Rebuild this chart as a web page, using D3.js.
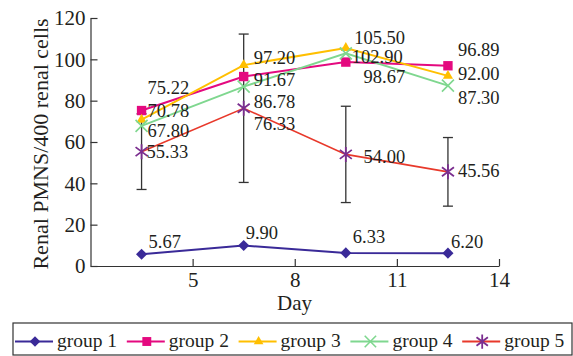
<!DOCTYPE html>
<html>
<head>
<meta charset="utf-8">
<script src="https://cdn.jsdelivr.net/npm/d3@7"></script>
<style>
  body { margin: 0; background: #fff; }
  text { font-family: "Liberation Serif", "Times New Roman", serif; fill: #231f20; }
</style>
</head>
<body>
<div id="my_dataviz"></div>
<script>

// data
var days = [3.5, 6.5, 9.5, 12.5];
var group1 = [5.67, 9.90, 6.33, 6.20];
var group2 = [75.22, 91.67, 98.67, 96.89];
var group3 = [70.78, 97.20, 105.50, 92.00];
var group4 = [67.80, 86.78, 102.90, 87.30];
var group5 = [55.33, 76.33, 54.00, 45.56];
var group5Err = [18.3, 35.9, 23.3, 16.6];
var groupNames = ["group 1", "group 2", "group 3", "group 4", "group 5"];
var xTicks = [5, 8, 11, 14];
var yTicks = [0, 20, 40, 60, 80, 100, 120];

// where each value label sits relative to its point (px)
var labelNudge = [
  [[7, -6], [2, -7], [7, -10], [3, -5.5]],
  [[6, -17], [10, 9.3], [17.7, 21], [10, -9.3]],
  [[6, -3], [10, -1.3], [8.4, -4], [10, 4]],
  [[6, 10.7], [10, 21.5], [6, 9.8], [10, 18]],
  [[5, 6.6], [10, 21.6], [17.7, 9], [10, 4.8]]
];

var styles = [
  {line: "#3a2a98", mark: "#3a2a98", shape: "diamond", lw: 2},
  {line: "#e4097f", mark: "#e4097f", shape: "square", lw: 2},
  {line: "#ffbf00", mark: "#ffbf00", shape: "triangle", lw: 2},
  {line: "#7fd78f", mark: "#7fd78f", shape: "cross", lw: 2},
  {line: "#e8392b", mark: "#7b2e8f", shape: "star", lw: 1.6}
];

var series = [group1, group2, group3, group4, group5];

var W = 573, H = 356;

var svg = d3.select("#my_dataviz")
    .append("svg")
        .attr("width", W)
        .attr("height", H);

var x = d3.scaleLinear()
            .domain([2, 14])
            .range([90.5, 499]);

var y = d3.scaleLinear()
            .domain([0, 120])
            .range([266, 18]);

// X axis
var xAxis = svg.append("g")
        .attr("transform", "translate(0,266)")
        .call(d3.axisBottom(x).tickValues(xTicks).tickSizeInner(-7).tickSizeOuter(0).tickPadding(6));

// Y axis
var yAxis = svg.append("g")
        .attr("transform", "translate(90.5,0)")
        .call(d3.axisLeft(y).tickValues(yTicks).tickSizeInner(-7).tickSizeOuter(0).tickPadding(5));

[xAxis, yAxis].forEach(function(a) {
    a.selectAll("path, line").attr("stroke", "#333").attr("stroke-width", 1.2);
    a.selectAll("text").attr("font-size", 21).style("font-family", '"Liberation Serif", serif').attr("fill", "#231f20");
});

svg.append("text")
    .attr("x", 294.5)
    .attr("y", 309.5)
    .attr("text-anchor", "middle")
    .attr("font-size", 21)
    .text("Day");

svg.append("text")
    .attr("transform", "translate(48,144) rotate(-90)")
    .attr("text-anchor", "middle")
    .attr("font-size", 22)
    .text("Renal PMNS/400 renal cells");

// error bars for group 5
var errG = svg.append("g");
group5.forEach(function(v, i) {
    var cx = x(days[i]);
    var top = y(v + group5Err[i]), bot = y(v - group5Err[i]);
    errG.append("line").attr("x1", cx).attr("x2", cx).attr("y1", top).attr("y2", bot);
    errG.append("line").attr("x1", cx - 5).attr("x2", cx + 5).attr("y1", top).attr("y2", top);
    errG.append("line").attr("x1", cx - 5).attr("x2", cx + 5).attr("y1", bot).attr("y2", bot);
});
errG.selectAll("line").attr("stroke", "#333").attr("stroke-width", 1.3);

function drawMarker(g, shape, color, cx, cy, k) {
    k = k || 1;
    if (shape === "diamond") {
        g.append("path").attr("d", d3.symbol(d3.symbolSquare, 62 * k * k)())
            .attr("transform", "translate(" + cx + "," + cy + ") rotate(45)").attr("fill", color);
    } else if (shape === "square") {
        g.append("path").attr("d", d3.symbol(d3.symbolSquare, 88 * k * k)())
            .attr("transform", "translate(" + cx + "," + cy + ")").attr("fill", color);
    } else if (shape === "triangle") {
        g.append("path").attr("d", d3.symbol(d3.symbolTriangle, 45 * k * k)())
            .attr("transform", "translate(" + cx + "," + cy + ")").attr("fill", color);
    } else if (shape === "cross") {
        var r = 6 * k;
        g.append("path").attr("d", "M" + (-r) + "," + (-r) + "L" + r + "," + r + "M" + (-r) + "," + r + "L" + r + "," + (-r))
            .attr("transform", "translate(" + cx + "," + cy + ")")
            .attr("stroke", color).attr("stroke-width", 1.6).attr("fill", "none");
    } else if (shape === "star") {
        var a = 6 * k, b = 7.5 * k;
        g.append("path").attr("d", "M0," + (-b) + "L0," + b + "M" + (-a) + "," + (-b * 0.6) + "L" + a + "," + (b * 0.6) + "M" + (-a) + "," + (b * 0.6) + "L" + a + "," + (-b * 0.6))
            .attr("transform", "translate(" + cx + "," + cy + ")")
            .attr("stroke", color).attr("stroke-width", 1.8).attr("fill", "none");
    }
}

var line = d3.line()
    .x(function(d, i) { return x(days[i]); })
    .y(function(d) { return y(d); });

series.forEach(function(vals, s) {
    var g = svg.append("g");
    g.append("path")
        .datum(vals)
        .attr("d", line)
        .attr("fill", "none")
        .attr("stroke", styles[s].line)
        .attr("stroke-width", styles[s].lw);
    vals.forEach(function(v, i) {
        drawMarker(g, styles[s].shape, styles[s].mark, x(days[i]), y(v));
    });
});

// value labels
series.forEach(function(vals, s) {
    svg.append("g").selectAll("text")
        .data(vals)
        .enter()
        .append("text")
        .attr("x", function(d, i) { return x(days[i]) + labelNudge[s][i][0]; })
        .attr("y", function(d, i) { return y(d) + labelNudge[s][i][1]; })
        .attr("font-size", 18.5)
        .text(function(d) { return d.toFixed(2); });
});

// legend
var leg = svg.append("g");
leg.append("rect")
    .attr("x", 13).attr("y", 323)
    .attr("width", 559).attr("height", 32)
    .attr("fill", "none").attr("stroke", "#333").attr("stroke-width", 1.2);

groupNames.forEach(function(name, s) {
    var x0 = 15 + s * 111.8;
    leg.append("line")
        .attr("x1", x0).attr("x2", x0 + 38)
        .attr("y1", 341.5).attr("y2", 341.5)
        .attr("stroke", styles[s].line).attr("stroke-width", 2);
    drawMarker(leg, styles[s].shape, styles[s].mark, x0 + 20, 341.5, 0.95);
    leg.append("text")
        .attr("x", x0 + 42).attr("y", 346.5)
        .attr("font-size", 19.5)
        .text(name);
});

</script>
</body>
</html>
